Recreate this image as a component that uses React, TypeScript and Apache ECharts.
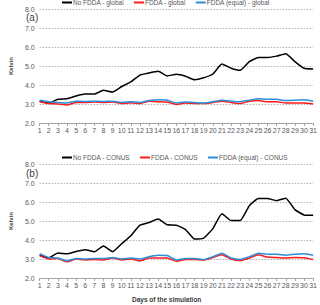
import React, { useEffect, useRef } from "react";
import * as echarts from "echarts";

const days = Array.from({ length: 31 }, (_, i) => String(i + 1));

const noFddaGlobal = [3.15, 3.05, 3.25, 3.28, 3.42, 3.52, 3.52, 3.72, 3.63, 3.92, 4.16, 4.52, 4.63, 4.72, 4.48, 4.56, 4.46, 4.28, 4.38, 4.58, 5.1, 4.88, 4.77, 5.23, 5.45, 5.45, 5.52, 5.65, 5.23, 4.88, 4.84];
const fddaGlobal = [3.12, 3.02, 3.0, 2.95, 3.08, 3.08, 3.1, 3.08, 3.1, 3.02, 3.06, 3.02, 3.15, 3.12, 3.1, 2.98, 3.05, 3.03, 3.02, 3.08, 3.15, 3.08, 3.02, 3.15, 3.18, 3.12, 3.12, 3.05, 3.05, 3.05, 3.0];
const fddaEqualGlobal = [3.2, 3.12, 3.08, 3.05, 3.15, 3.13, 3.15, 3.13, 3.15, 3.08, 3.12, 3.08, 3.18, 3.22, 3.2, 3.05, 3.1, 3.08, 3.05, 3.12, 3.2, 3.15, 3.12, 3.2, 3.27, 3.25, 3.25, 3.18, 3.2, 3.22, 3.15];

const noFddaConus = [3.2, 3.06, 3.32, 3.27, 3.4, 3.49, 3.38, 3.69, 3.38, 3.8, 4.22, 4.78, 4.92, 5.1, 4.8, 4.78, 4.55, 4.05, 4.1, 4.6, 5.38, 5.02, 5.02, 5.8, 6.18, 6.18, 6.07, 6.2, 5.6, 5.32, 5.3];
const fddaConus = [3.18, 3.0, 3.02, 2.85, 3.0, 2.95, 2.97, 2.95, 3.05, 2.95, 3.0, 2.9, 3.05, 3.05, 3.05, 2.88, 2.97, 2.98, 2.95, 3.08, 3.22, 3.0, 2.92, 3.05, 3.22, 3.1, 3.08, 3.05, 3.08, 3.07, 2.97];
const fddaEqualConus = [3.28, 3.08, 3.05, 2.9, 3.02, 3.0, 3.02, 3.02, 3.08, 3.0, 3.05, 3.0, 3.12, 3.2, 3.18, 2.95, 3.03, 3.03, 2.97, 3.12, 3.3, 3.05, 2.98, 3.12, 3.3, 3.25, 3.25, 3.2, 3.25, 3.28, 3.2];

const FONT = "Liberation Sans";
const TXT = "#595959";
const BLACK = "#000000";
const RED = "#ff1a1a";
const BLUE = "#2b8fd9";

function xAxis(gridIndex: number) {
  return {
    type: "category",
    gridIndex,
    data: days,
    boundaryGap: false,
    axisLine: { lineStyle: { color: "#a6a6a6", width: 1 } },
    axisTick: { show: true, length: 3, lineStyle: { color: "#a6a6a6" } },
    axisLabel: { color: TXT, fontSize: 7, fontFamily: FONT, margin: 4, interval: 0 },
    splitLine: { show: false },
  };
}

function yAxis(gridIndex: number) {
  return {
    type: "value",
    gridIndex,
    min: 2,
    max: 8,
    interval: 1,
    name: "Kelvin",
    nameLocation: "middle",
    nameGap: 14,
    nameTextStyle: { color: "#404040", fontSize: 6, fontFamily: FONT, fontWeight: "bold" },
    axisLine: { show: false },
    axisTick: { show: false },
    axisLabel: { color: TXT, fontSize: 7, fontFamily: FONT, margin: 5, formatter: (v: number) => v.toFixed(1) },
    splitLine: { lineStyle: { color: "#b0b0b0", type: [1.5, 1.5], width: 1 } },
  };
}

function line(name: string, data: number[], color: string, idx: number) {
  return {
    name,
    type: "line",
    xAxisIndex: idx,
    yAxisIndex: idx,
    data,
    smooth: 0.15,
    symbol: "none",
    lineStyle: { color, width: 1.5 },
    itemStyle: { color },
  };
}

function legend(top: number, names: string[]) {
  return {
    top,
    left: 62,
    itemWidth: 10,
    itemHeight: 2,
    itemGap: 10,
    icon: "rect",
    textStyle: { color: TXT, fontSize: 6.5, fontFamily: FONT, padding: [0, 0, 0, -4] },
    data: names,
    padding: 0,
  };
}

function label(text: string, left: number, top: number, size: number, bold: boolean) {
  return {
    text,
    left,
    top,
    padding: 0,
    textStyle: { fontSize: size, fontFamily: FONT, color: "#404040", fontWeight: bold ? "bold" : "normal" },
  };
}

export default function App() {
  const ref = useRef<HTMLDivElement>(null);
  useEffect(() => {
    if (!ref.current) return;
    const chart = echarts.init(ref.current, null, { renderer: "svg" });
    chart.setOption({
      animation: false,
      backgroundColor: "#ffffff",
      title: [
        label("(a)", 26, 12, 10, false),
        label("(b)", 26, 168, 10, false),
        label("Days of the simulation", 132, 296, 6.5, true),
      ],
      grid: [
        { left: 22, right: 3, top: 9, height: 114 },
        { left: 22, right: 3, top: 164, height: 114 },
      ],
      legend: [
        legend(-1, ["No FDDA - global", "FDDA - global", "FDDA (equal) - global"]),
        legend(154, ["No FDDA - CONUS", "FDDA - CONUS", "FDDA (equal) - CONUS"]),
      ],
      xAxis: [xAxis(0), xAxis(1)],
      yAxis: [yAxis(0), yAxis(1)],
      series: [
        line("No FDDA - global", noFddaGlobal, BLACK, 0),
        line("FDDA - global", fddaGlobal, RED, 0),
        line("FDDA (equal) - global", fddaEqualGlobal, BLUE, 0),
        line("No FDDA - CONUS", noFddaConus, BLACK, 1),
        line("FDDA - CONUS", fddaConus, RED, 1),
        line("FDDA (equal) - CONUS", fddaEqualConus, BLUE, 1),
      ],
    });
    return () => chart.dispose();
  }, []);
  return (
    <div
      ref={ref}
      style={{ position: "fixed", left: 0, top: 0, width: 320, height: 305, background: "#fff" }}
    />
  );
}
